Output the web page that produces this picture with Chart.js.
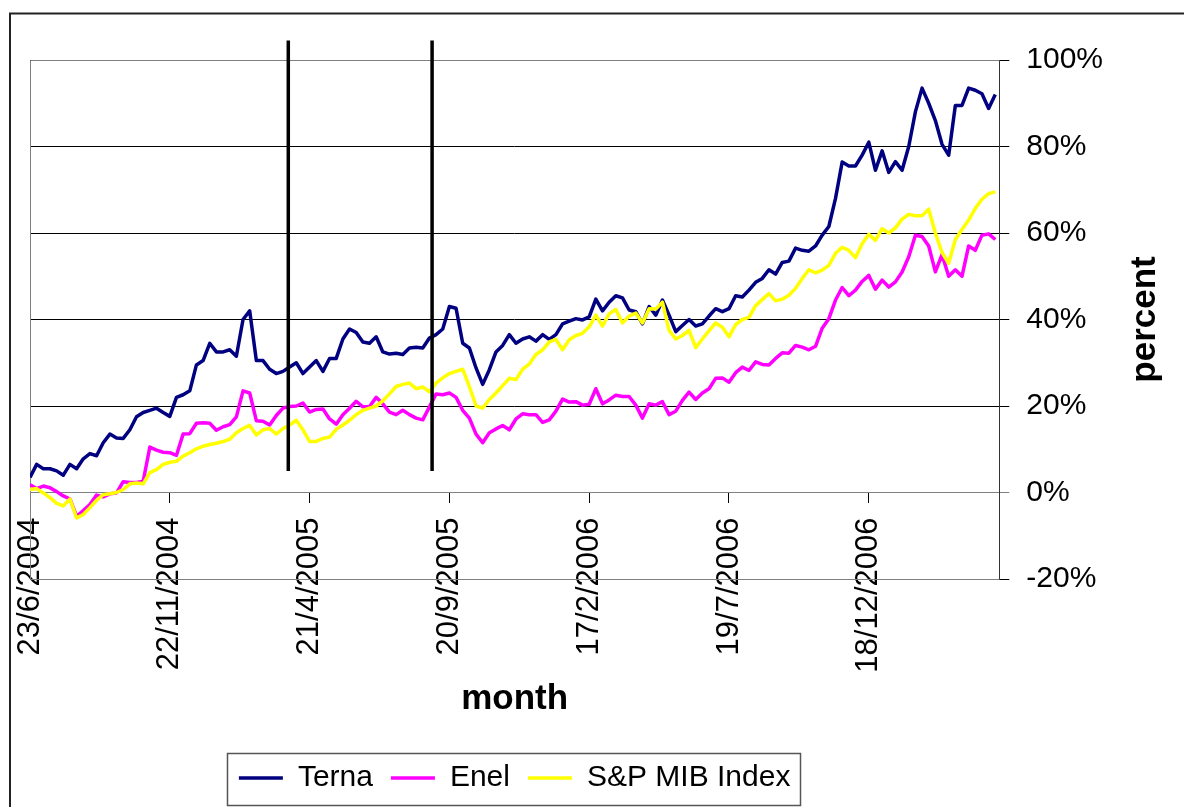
<!DOCTYPE html>
<html><head><meta charset="utf-8">
<script src="https://cdn.jsdelivr.net/npm/chart.js@4/dist/chart.umd.min.js"></script>
<style>html,body{margin:0;padding:0;background:#fff;overflow:hidden}canvas{display:block}</style>
</head><body>
<canvas id="c" width="1184" height="807"></canvas>
<script>
// sampling interval (trading days) of the series below
const STEP = 5;
// category tick positions (trading-day index) and their labels
const tickDays = [0, 105, 210, 315, 420, 525, 630];
const tickLabels = ['23/6/2004', '22/11/2004', '21/4/2005', '20/9/2005', '17/2/2006', '19/7/2006', '18/12/2006'];
// vertical event markers (trading-day index) and their vertical extent (%)
const eventDays = [194, 302];
const eventTop = 104.5, eventBottom = 5;

const seriesNames = ['Terna', 'Enel', 'S&P MIB Index'];
const seriesColors = ['#000080', '#FF00FF', '#FFFF00'];

// cumulative performance in percent
const terna = [
  3.5, 6.5, 5.5, 5.5, 5, 4, 6.5, 5.5, 7.8, 9,
  8.5, 11.5, 13.5, 12.6, 12.5, 14.5, 17.5, 18.5, 19, 19.5,
  18.5, 17.6, 22, 22.6, 23.5, 29.5, 30.5, 34.5, 32.5, 32.5,
  33, 31.5, 40, 42, 30.5, 30.5, 28.5, 27.5, 28, 29,
  30, 27.5, 29, 30.5, 28, 31, 31, 35.5, 37.8, 37,
  34.8, 34.5, 36, 32.5, 32, 32.2, 31.9, 33.4, 33.6, 33.4,
  35.7, 36.5, 37.8, 43, 42.6, 34.5, 33.4, 28.8, 25, 28.4,
  32.5, 34, 36.5, 34.5, 35.5, 36, 35, 36.5, 35.4, 36.5,
  39, 39.6, 40.2, 39.9, 40.6, 44.7, 42, 44, 45.5, 45,
  42.2, 41.8, 39, 43, 41, 44.5, 41, 37.2, 38.6, 40,
  38.5, 39, 40.8, 42.5, 41.8, 42.5, 45.5, 45.2, 46.8, 48.6,
  49.5, 51.5, 50.5, 53.2, 53.5, 56.5, 56, 55.8, 57, 59.5,
  61.5, 68, 76.4, 75.5, 75.5, 78, 81, 74.5, 79, 74,
  76.5, 74.5, 80, 88, 93.5, 90, 86, 80.5, 78, 89.5,
  89.5, 93.5, 93, 92.2, 88.8, 92
];
const enel = [
  1.8, 0.9, 1.5, 1.1, 0.2, -0.8, -1.5, -5.5, -4.2, -2.8,
  -0.6, -1, -0.3, -0.1, 2.5, 2.3, 2.3, 2.6, 10.5, 9.8,
  9.3, 9.2, 8.6, 13.5, 13.6, 16, 16.1, 16, 14.4, 15.2,
  15.7, 17.5, 23.5, 23, 16.6, 16.5, 15.6, 17.8, 19.5, 19.9,
  20, 20.7, 18.6, 19.2, 19.3, 17, 15.8, 18, 19.5, 21.1,
  19.8, 19.9, 22, 20.5, 18.6, 18, 19, 18, 17.2, 16.8,
  19.8, 22.8, 22.6, 23, 22, 19, 17.2, 13.5, 11.5, 13.8,
  14.7, 15.5, 14.5, 17, 18.2, 18, 18, 16.2, 16.8, 18.8,
  21.6, 20.9, 21, 20.2, 20.4, 24, 20.5, 21.4, 22.5, 22.2,
  22.2, 20.2, 17.2, 20.5, 20.2, 21, 18, 18.8, 21.3, 23.2,
  21.5, 23, 24, 26.4, 26.5, 25.5, 27.7, 29, 28.2, 30.2,
  29.6, 29.5, 31, 32.3, 32.2, 34, 33.6, 33, 33.8, 38,
  40.2, 44.5, 47.4, 45.5, 46.8, 48.8, 50.2, 47, 49.1, 47.5,
  48.7, 51, 54.5, 59.5, 59.2, 57, 51, 55, 50, 51.5,
  50, 57, 56, 59.5, 59.8, 58.5
];
const mib = [
  0.7, 0.9, -0.1, -1.2, -2.5, -3.1, -1.5, -5.9, -5.1, -3.5,
  -1.8, -0.5, -0.3, 0, 0.7, 2, 2.2, 2, 4.6, 5.3,
  6.5, 7, 7.2, 8.4, 9.2, 10.1, 10.7, 11.1, 11.4, 11.8,
  12.3, 13.8, 14.8, 15.5, 13.3, 14.5, 14.8, 13.5, 14.8, 15.6,
  16.7, 14.5, 11.8, 11.8, 12.5, 12.8, 14.6, 15.6, 16.7, 18,
  19, 19.5, 20, 21.2, 22.8, 24.5, 25, 25.3, 24, 24.4,
  23.3, 25.3, 26.5, 27.5, 28, 28.5, 24.5, 20, 19.5, 21.5,
  23, 24.7, 26.4, 26.1, 28.5, 29.7, 31.9, 33, 34.8, 35.4,
  33, 35.3, 36.3, 36.8, 38.3, 41, 38.5, 41.3, 42.3, 39.2,
  40.8, 41.5, 39.2, 42.5, 42.4, 44, 37.5, 35.5, 36.3, 37.5,
  33.5, 35.5, 37.4, 39.2, 38.2, 36, 38.8, 40, 40.5, 43.2,
  44.6, 46, 44.3, 44.7, 45.6, 47.2, 49.5, 51.5, 50.8, 51.4,
  52.5, 55.3, 56.7, 56, 54.3, 57.5, 59.7, 58.3, 61, 60,
  61.2, 63.2, 64.3, 64, 64, 65.5, 60, 55.5, 53, 58.5,
  60.8, 63, 65.7, 67.8, 69.1, 69.5
];

const FONT = "'Liberation Sans', Arial, Helvetica, sans-serif";
const toPts = arr => arr.map((v, i) => ({ x: i * STEP, y: v }));
const seriesData = [terna, enel, mib];

const decor = {
  id: 'decor',
  beforeDatasetsDraw(chart) {
    const { ctx, chartArea: a } = chart;
    const L = Math.round(a.left) + 0.5, T = Math.round(a.top) + 0.5, B = Math.round(a.bottom) + 0.5;
    ctx.save();
    ctx.strokeStyle = '#808080';
    ctx.lineWidth = 1;
    ctx.beginPath();
    ctx.moveTo(a.right, T); ctx.lineTo(L, T); ctx.lineTo(L, B); ctx.lineTo(a.right, B);
    ctx.stroke();
    ctx.restore();
  },
  afterDraw(chart) {
    const { ctx, chartArea: a } = chart;
    ctx.save();
    // legend frame
    const hb = chart.legend && chart.legend.legendHitBoxes;
    if (hb && hb.length) {
      const xs = hb.map(h => h.left), xe = hb.map(h => h.left + h.width);
      const f = hb[0];
      const x0 = Math.round(Math.min(...xs) - 12) + 0.5, x1 = Math.round(Math.max(...xe) + 10) + 0.5;
      const y0 = Math.round(f.top - 10) + 0.5, y1 = Math.round(f.top + f.height + 12) + 0.5;
      ctx.strokeStyle = '#555';
      ctx.lineWidth = 1.5;
      ctx.strokeRect(x0, y0, x1 - x0, y1 - y0);
    }
    // outer chart frame
    ctx.strokeStyle = '#222';
    ctx.lineWidth = 2;
    ctx.strokeRect(10, 13.5, 1600, 1600);
    // value axis title (reads bottom to top)
    ctx.fillStyle = '#000';
    ctx.font = 'bold 35px ' + FONT;
    ctx.translate(1155, (a.top + a.bottom) / 2);
    ctx.rotate(-Math.PI / 2);
    ctx.textAlign = 'center';
    ctx.textBaseline = 'alphabetic';
    ctx.fillText('percent', 0, 0);
    ctx.restore();
  }
};

const datasets = seriesNames.map((name, k) => ({
  label: name,
  data: toPts(seriesData[k]),
  borderColor: seriesColors[k],
  backgroundColor: seriesColors[k],
  borderWidth: 3.5,
  borderJoinStyle: 'round',
  pointRadius: 0,
  tension: 0,
  order: 3 - k
}));
eventDays.forEach(d => datasets.push({
  label: 'event',
  data: [{ x: d, y: eventTop }, { x: d, y: eventBottom }],
  borderColor: '#000',
  backgroundColor: '#000',
  borderWidth: 3.5,
  pointRadius: 0,
  clip: false,
  order: 0
}));

new Chart(document.getElementById('c'), {
  type: 'line',
  data: { datasets },
  options: {
    responsive: false,
    animation: false,
    devicePixelRatio: 1,
    layout: { padding: { left: 30, top: 60, right: 64, bottom: 4 } },
    plugins: {
      tooltip: { enabled: false },
      legend: {
        position: 'bottom',
        fullSize: false,
        align: 'center',
        title: { display: true, text: '', color: 'rgba(0,0,0,0)', padding: { top: 156, bottom: 0 }, font: { size: 10, lineHeight: 1 } },
        labels: {
          filter: item => item.datasetIndex < seriesNames.length,
          sort: (a, b) => a.datasetIndex - b.datasetIndex,
          usePointStyle: true,
          pointStyle: 'line',
          pointStyleWidth: 44,
          padding: 18,
          color: '#000',
          font: { family: FONT, size: 30 }
        }
      }
    },
    scales: {
      x: {
        type: 'linear',
        min: 0,
        max: 728,
        position: { y: 0 },
        afterBuildTicks: s => { s.ticks = tickDays.map(v => ({ value: v })); },
        ticks: {
          autoSkip: false,
          minRotation: 90,
          maxRotation: 90,
          padding: 15,
          color: '#000',
          font: { family: FONT, size: 31 },
          callback: (v, i) => tickLabels[i]
        },
        grid: { drawOnChartArea: false, drawTicks: true, tickLength: 10, color: '#000', lineWidth: 1 },
        border: { display: true, color: '#808080', width: 1 },
        title: { display: true, text: 'month', color: '#000', font: { family: FONT, size: 35, weight: 'bold' }, padding: { top: -9, bottom: 0 } }
      },
      y: {
        position: 'right',
        min: -20,
        max: 100,
        ticks: { stepSize: 20, padding: 17, color: '#000', font: { family: FONT, size: 30 }, callback: v => v + '%' },
        grid: {
          color: c => (c.tick && c.tick.value === 0 ? '#808080' : '#000'),
          lineWidth: 1, tickLength: 10, drawTicks: true
        },
        border: { display: true, color: '#333', width: 1 }
      }
    }
  },
  plugins: [decor]
});
</script>
</body></html>
